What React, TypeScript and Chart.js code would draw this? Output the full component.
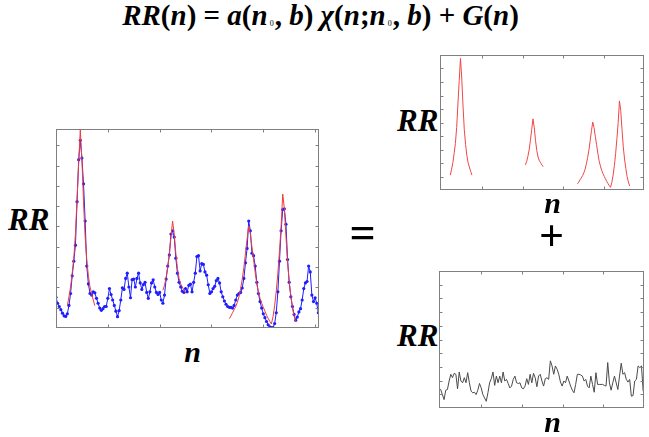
import React, { useEffect, useRef } from 'react';
import { Chart, registerables } from 'chart.js';

Chart.register(...registerables);

// ---------- data ----------
// left panel: measured RR(n), blue dotted series, n = 0..162
const measuredRR = [
  1.51, 1.22, 1.06, 0.90, 0.73, 0.60, 0.57, 0.70, 1.11, 1.70,
  2.57, 3.29, 4.08, 6.22, 8.29, 9.24, 8.37, 7.10, 5.27, 3.05,
  2.17, 1.70, 1.62, 1.78, 1.73, 1.46, 1.22, 0.98, 0.87, 0.95,
  1.06, 1.06, 1.46, 1.94, 1.65, 1.38, 1.11, 0.83, 0.56, 0.86,
  1.38, 1.98, 1.90, 2.44, 2.70, 2.02, 1.49, 2.38, 2.41, 2.02,
  2.44, 2.70, 2.22, 1.90, 2.14, 2.25, 1.75, 1.46, 1.78, 2.22,
  2.37, 2.02, 1.75, 1.65, 1.75, 1.38, 1.22, 1.62, 2.41, 3.05,
  3.60, 4.63, 4.79, 4.48, 3.44, 2.70, 2.25, 2.02, 1.81, 1.75,
  1.94, 1.78, 2.10, 2.16, 1.78, 2.25, 2.70, 3.52, 3.56, 2.81,
  3.17, 3.13, 2.76, 2.60, 2.13, 1.70, 1.78, 1.94, 2.05, 2.33,
  2.44, 2.22, 1.78, 1.54, 1.33, 1.17, 1.06, 1.02, 1.02, 0.98,
  1.11, 1.38, 1.62, 1.70, 1.75, 1.97, 2.44, 3.21, 3.92, 5.27,
  4.79, 3.68, 3.56, 3.05, 2.25, 1.70, 1.30, 0.98, 0.70, 0.51,
  0.32, 0.16, 0.06, 0.02, 0.02, 0.22, 0.75, 1.78, 3.29, 4.79,
  5.83, 5.87, 5.11, 3.37, 2.25, 1.54, 1.06, 0.67, 0.38, 0.54,
  0.79, 0.95, 1.38, 1.94, 2.22, 2.29, 3.05, 2.76, 1.62, 1.30,
  1.49, 1.22, 0.75,
];

// fitted peaks a(n0,b)·χ(n;n0,b), red, same n grid (null = no fit there)
const N = null;
const peakFitRR = [
  N, N, N, N, N, N, N, 1.10, 1.54, 2.02,
  2.70, 3.44, 4.63, 6.37, 8.10, 9.75, 8.29, 6.22, 4.48, 3.37,
  2.57, 2.02, 1.70, 1.38, 1.10, N, N, N, N, N,
  N, N, N, N, N, N, N, N, N, N,
  N, N, N, N, N, N, N, N, N, N,
  N, N, N, N, N, N, N, N, N, N,
  N, N, N, N, N, N, 1.86, 2.10, 2.49, 2.97,
  3.68, 4.48, 5.27, 4.63, 3.68, 2.92, 2.44, 2.17, 2.02, 1.86,
  1.73, N, N, N, N, N, N, N, N, N,
  N, N, N, N, N, N, N, N, N, N,
  N, N, N, N, N, N, N, 0.46, 0.59, 0.75,
  0.90, 1.06, 1.27, 1.54, 1.94, 2.41, 2.97, 3.68, 4.40, 5.03,
  4.63, 3.98, 3.37, 2.73, 2.17, 1.78, 1.46, 1.22, 1.02, 0.83,
  0.63, 0.48, 0.32, 0.20, 0.55, 1.10, 1.80, 2.70, 3.80, 5.00,
  6.60, 5.90, 4.50, 3.20, 2.30, 1.60, 1.00, 0.60, 0.30, N,
  N, N, N, N, N, N, N, N, N, N,
  N, N, N,
];

// bottom-right panel: background G(n), gray
const backgroundG = [
  1.47, 1.35, 0.98, 0.61, 1.30, 1.35, 1.97, 2.46, 2.21, 2.53,
  2.46, 1.40, 2.63, 1.97, 1.84, 2.21, 1.84, 2.58, 1.84, 1.23,
  1.11, 1.15, 0.98, 1.30, 1.79, 1.47, 0.98, 0.74, 0.49, 1.11,
  1.84, 2.14, 2.63, 1.65, 2.33, 1.84, 2.33, 1.84, 2.63, 1.97,
  2.09, 1.79, 1.47, 1.60, 2.09, 2.33, 1.84, 1.79, 1.84, 1.47,
  1.40, 1.60, 2.14, 1.72, 2.46, 1.84, 2.53, 2.21, 1.55, 2.33,
  2.46, 1.97, 1.60, 2.14, 2.21, 2.09, 3.44, 3.07, 2.46, 3.07,
  2.83, 2.46, 1.89, 1.60, 1.97, 1.84, 2.33, 1.97, 1.60, 1.30,
  1.11, 1.72, 2.46, 2.46, 2.41, 2.33, 1.97, 2.09, 1.60, 1.47,
  2.33, 1.72, 1.15, 2.58, 1.72, 1.72, 1.72, 1.72, 1.65, 1.60,
  3.32, 1.84, 1.30, 1.84, 2.33, 1.84, 1.35, 2.33, 3.27, 2.46,
  2.58, 2.09, 1.89, 2.09, 0.86, 0.91, 1.97, 2.09, 3.07, 2.95,
  3.07, 1.23,
];

// tick positions (no tick labels are shown in the figure)
const peakNTicks = [32, 64, 96, 128, 160];
const noiseNTicks = [24.8, 49.1, 73.3, 97.2];
const rrTicks = [1, 2, 3, 4, 5, 6, 7, 8, 9];

// ---------- helpers ----------
const SERIF = "'Liberation Serif', 'Times New Roman', serif";

function makeBox(xTicks: number[], yTicks: number[]) {
  return {
    id: 'matlabBox',
    afterDatasetsDraw(chart: any) {
      const { ctx, chartArea: a, scales } = chart;
      const xs = scales.x;
      const ys = scales.y;
      const L = Math.round(a.left) + 0.5;
      const R = Math.round(a.right) - 0.5;
      const T = Math.round(a.top) + 0.5;
      const B = Math.round(a.bottom) - 0.5;
      const len = 3;
      ctx.save();
      ctx.strokeStyle = '#7f7f7f';
      ctx.lineWidth = 1;
      ctx.strokeRect(L, T, R - L, B - T);
      ctx.beginPath();
      for (const v of xTicks) {
        const p = Math.round(xs.getPixelForValue(v)) + 0.5;
        if (p <= L || p >= R) continue;
        ctx.moveTo(p, B); ctx.lineTo(p, B - len);
        ctx.moveTo(p, T); ctx.lineTo(p, T + len);
      }
      for (const v of yTicks) {
        const p = Math.round(ys.getPixelForValue(v)) + 0.5;
        if (p <= T || p >= B) continue;
        ctx.moveTo(L, p); ctx.lineTo(L + len, p);
        ctx.moveTo(R, p); ctx.lineTo(R - len, p);
      }
      ctx.stroke();
      ctx.restore();
    },
  };
}

function baseOptions(xMin: number, xMax: number, yMax: number) {
  return {
    responsive: false,
    animation: false as const,
    events: [] as any[],
    layout: { padding: 0 },
    plugins: { legend: { display: false }, tooltip: { enabled: false } },
    elements: { line: { tension: 0 } },
    scales: {
      x: { type: 'linear' as const, display: false, min: xMin, max: xMax },
      y: { type: 'linear' as const, display: false, min: 0, max: yMax },
    },
  };
}

const toXY = (arr: (number | null)[]) => arr.map((v, i) => ({ x: i, y: v }));

function Panel(props: { left: number; top: number; width: number; height: number; make: () => any }) {
  const ref = useRef<HTMLCanvasElement | null>(null);
  useEffect(() => {
    if (!ref.current) return;
    const chart = new Chart(ref.current, props.make());
    return () => chart.destroy();
  }, []);
  return (
    <canvas
      ref={ref}
      width={props.width}
      height={props.height}
      style={{ position: 'absolute', left: props.left, top: props.top, width: props.width, height: props.height, display: 'block' }}
    />
  );
}

function Label(props: { text: string; cx?: number; left?: number; top: number; size: number; italic?: boolean }) {
  const style: React.CSSProperties = {
    position: 'absolute',
    top: props.top,
    fontFamily: SERIF,
    fontWeight: 'bold',
    fontStyle: props.italic ? 'italic' : 'normal',
    fontSize: props.size,
    lineHeight: props.size + 'px',
    whiteSpace: 'nowrap',
    color: '#000',
  };
  if (props.cx !== undefined) {
    style.left = props.cx - 50;
    style.width = 100;
    style.textAlign = 'center';
  } else {
    style.left = props.left;
  }
  return <div style={style}>{props.text}</div>;
}

const Up = (p: { children: React.ReactNode }) => <span style={{ fontStyle: 'normal' }}>{p.children}</span>;
const Sub = (p: { children: React.ReactNode }) => (
  <span style={{ fontStyle: 'normal', fontWeight: 'normal', fontSize: 8, position: 'relative', top: 1, margin: '0 1px 0 2px' }}>{p.children}</span>
);

export default function App() {
  const left = () => ({
    type: 'line',
    data: {
      datasets: [
        {
          data: toXY(peakFitRR),
          borderColor: '#f03a3a',
          borderWidth: 1,
          pointRadius: 0,
          spanGaps: false,
        },
        {
          data: toXY(measuredRR),
          borderColor: '#1e1eff',
          borderWidth: 1,
          pointRadius: 1.6,
          pointBorderWidth: 0,
          pointBackgroundColor: '#1e1eff',
        },
      ],
    },
    options: baseOptions(0, 162.4, 9.8),
    plugins: [makeBox(peakNTicks, rrTicks)],
  });

  const topRight = () => ({
    type: 'line',
    data: {
      datasets: [
        {
          data: toXY(peakFitRR),
          borderColor: '#f04646',
          borderWidth: 1,
          pointRadius: 0,
          spanGaps: false,
        },
      ],
    },
    options: baseOptions(-1.1, 159.3, 10),
    plugins: [makeBox(peakNTicks, rrTicks)],
  });

  const bottomRight = () => ({
    type: 'line',
    data: {
      datasets: [
        {
          data: toXY(backgroundG),
          borderColor: '#4a4a4a',
          borderWidth: 1,
          pointRadius: 0,
        },
      ],
    },
    options: baseOptions(0, 121.5, 10),
    plugins: [makeBox(noiseNTicks, rrTicks)],
  });

  return (
    <div style={{ position: 'fixed', left: 0, top: 0, width: 649, height: 437, background: '#fff', overflow: 'hidden' }}>
      <div
        style={{
          position: 'absolute', left: 0, top: 1, width: 641, textAlign: 'center',
          fontFamily: SERIF, fontWeight: 'bold', fontStyle: 'italic', fontSize: 29, lineHeight: '29px', whiteSpace: 'nowrap',
        }}
      >
        RR<Up>(</Up>n<Up>)</Up> <Up>=</Up> a<Up>(</Up>n<Sub>0</Sub><Up>, </Up>b<Up>)</Up> χ<Up>(</Up>n<Up>;</Up>n<Sub>0</Sub><Up>, </Up>b<Up>)</Up> <Up>+</Up> G<Up>(</Up>n<Up>)</Up>
      </div>

      <Panel left={52} top={125} width={271} height={207} make={left} />
      <Panel left={440} top={55} width={204} height={135} make={topRight} />
      <Panel left={439} top={271} width={205} height={137} make={bottomRight} />

      <Label text="RR" left={8} top={204} size={31} italic />
      <Label text="n" cx={192.5} top={337} size={30} italic />
      <Label text="=" cx={362.5} top={210} size={46} />

      <Label text="RR" left={397} top={105} size={31} italic />
      <Label text="n" cx={552.5} top={188} size={30} italic />
      <Label text="+" cx={551.5} top={214} size={44} />

      <Label text="RR" left={397} top={320} size={31} italic />
      <Label text="n" cx={552.5} top={407} size={30} italic />
    </div>
  );
}
